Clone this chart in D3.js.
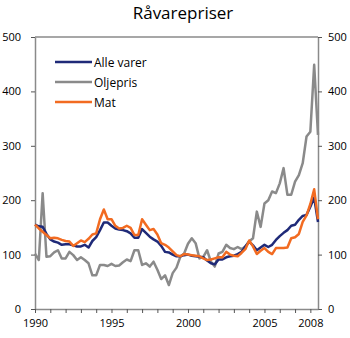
<!DOCTYPE html>
<html>
<head>
<meta charset="utf-8">
<script src="https://cdn.jsdelivr.net/npm/d3@7"></script>
<style>
body { margin: 0; background: #fff; }
text { font-family: "Open Sans", "Liberation Sans", sans-serif; fill: #000; }
</style>
</head>
<body>
<svg id="chart" width="350" height="338"></svg>
<script>
const title = "Råvarepriser";
const seriesNames = ["Alle varer", "Oljepris", "Mat"];
const seriesColors = ["#1f2a78", "#8a8a8a", "#f26b21"];
const startYear = 1990;
const xTickLabels = [1990, 1995, 2000, 2005, 2008];
const yTicks = [0, 100, 200, 300, 400, 500];

// Quarterly values, 1990 Q1 .. 2008 Q3
const alleVarer = [155,152,151,138,128,124,122,118,119,119,117,115,115,118,113,125,132,145,159,159,
  153,148,146,145,143,139,131,131,147,140,133,128,124,116,105,104,100,97,97,99,
  100,98,97,96,95,89,84,82,91,91,95,97,98,101,105,115,124,117,108,113,
  118,114,118,127,134,140,145,153,155,164,171,173,188,205,160];
const oljepris = [102,90,213,96,97,104,108,93,93,105,99,90,95,90,84,62,62,81,81,79,
  83,79,80,86,91,88,108,108,81,84,78,87,72,55,62,44,66,76,96,102,
  120,130,121,93,96,108,87,78,102,105,118,112,110,114,110,115,124,130,179,151,
  194,200,216,213,231,259,210,210,234,246,268,317,326,449,320];
const mat = [155,148,142,136,130,131,130,127,125,124,116,121,126,123,129,137,139,165,183,165,
  165,153,148,149,153,149,136,136,165,155,145,147,137,121,118,113,106,99,97,101,
  100,99,98,97,93,90,91,93,95,95,105,100,98,97,103,110,126,115,101,107,
  112,105,101,112,112,112,113,130,132,138,160,172,193,220,165];

const seriesValues = [alleVarer, oljepris, mat];

const svg = d3.select("#chart");
const L = 35, R = 318, T = 37, B = 309;

const x = d3.scaleLinear().domain([startYear, startYear + 18.5]).range([L, R]);
const y = d3.scaleLinear().domain([0, 500]).range([B, T]);

const axisColor = "#8a8a8a";

// Title
svg.append("text").attr("x", 183).attr("y", 19).attr("text-anchor", "middle")
  .style("font-size", "17px").text(title);

// Top border
svg.append("line").attr("x1", L).attr("x2", R).attr("y1", T).attr("y2", T)
  .attr("stroke", axisColor).attr("stroke-width", 1.5);

// Left axis
const yLeft = svg.append("g").attr("transform", `translate(${L},0)`)
  .call(d3.axisLeft(y).tickValues(yTicks).tickSize(4).tickPadding(10).tickSizeOuter(0));
// Right axis
const yRight = svg.append("g").attr("transform", `translate(${R},0)`)
  .call(d3.axisRight(y).tickValues(yTicks).tickSize(4).tickPadding(6).tickSizeOuter(0));
// Bottom axis
const years = d3.range(startYear, 2009);
const xAxis = svg.append("g").attr("transform", `translate(0,${B})`)
  .call(d3.axisBottom(x).tickValues(years).tickSize(4).tickPadding(6).tickSizeOuter(0)
    .tickFormat(d => xTickLabels.includes(d) ? String(d) : ""));

[yLeft, yRight, xAxis].forEach(g => {
  g.select(".domain").attr("stroke", axisColor).attr("stroke-width", 1.5);
  g.selectAll(".tick line").attr("stroke", "#555").attr("stroke-width", 1);
  g.selectAll(".tick text").style("font-size", "11px").attr("fill", "#000")
    .style("font-family", '"Open Sans", sans-serif');
});

// Lines
const line = d3.line().x((d, i) => x(startYear + i * 0.25)).y(d => y(d));
const drawOrder = [1, 0, 2];
drawOrder.forEach(k => {
  svg.append("path").datum(seriesValues[k])
    .attr("fill", "none").attr("stroke", seriesColors[k])
    .attr("stroke-width", 2.5).attr("stroke-linejoin", "round")
    .attr("d", line);
});

// Legend
seriesNames.forEach((name, i) => {
  const ly = 62 + i * 20;
  svg.append("line").attr("x1", 55).attr("x2", 92).attr("y1", ly).attr("y2", ly)
    .attr("stroke", seriesColors[i]).attr("stroke-width", 2.5);
  svg.append("text").attr("x", 94).attr("y", ly + 4.5)
    .style("font-size", "12px").text(name);
});
</script>
</body>
</html>
